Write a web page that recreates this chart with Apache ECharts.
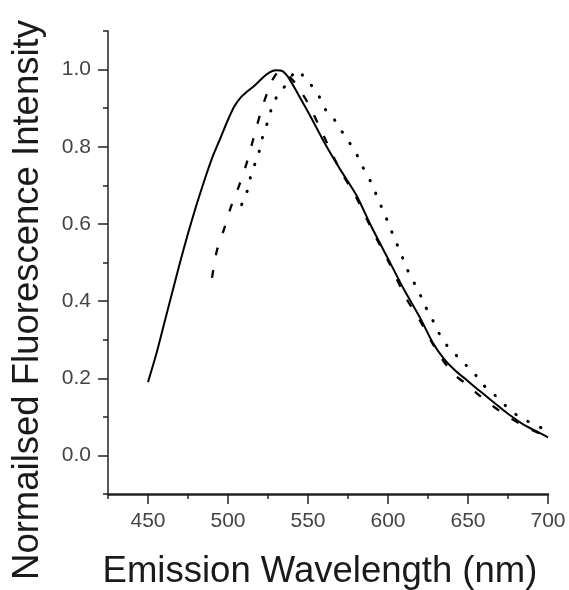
<!DOCTYPE html>
<html>
<head>
<meta charset="utf-8">
<script src="https://cdn.jsdelivr.net/npm/echarts@6/dist/echarts.min.js"></script>
<style>
html,body{margin:0;padding:0;background:#fff;}
#chart{width:569px;height:590px;}
</style>
</head>
<body>
<div id="chart"></div>
<script>
// Emission wavelength (nm) / normalised intensity pairs
const solidX = [450, 455, 460, 465, 470, 475, 480, 485, 490, 495, 500, 504, 508, 512, 517, 522, 526, 530, 534, 538, 544, 551, 561, 570, 580, 590, 600, 610, 620, 628, 635, 642, 649, 657, 666, 675, 684, 692, 700];
const solidY = [0.19, 0.26, 0.34, 0.42, 0.50, 0.575, 0.645, 0.71, 0.77, 0.82, 0.87, 0.905, 0.928, 0.943, 0.96, 0.98, 0.993, 0.998, 0.996, 0.978, 0.935, 0.883, 0.805, 0.742, 0.676, 0.59, 0.51, 0.43, 0.357, 0.292, 0.25, 0.22, 0.196, 0.168, 0.138, 0.108, 0.082, 0.064, 0.047];

const dashX = [490, 493, 497.5, 502, 507, 512, 516, 520.5, 524.5, 528, 532, 536, 542, 550, 557, 570, 580, 590, 600, 611, 620, 628, 633, 638, 643, 649, 655, 661, 674, 686.5, 700];
const dashY = [0.46, 0.53, 0.586, 0.646, 0.70, 0.762, 0.823, 0.89, 0.94, 0.975, 0.995, 0.99, 0.965, 0.913, 0.853, 0.74, 0.67, 0.585, 0.505, 0.41, 0.349, 0.289, 0.255, 0.226, 0.204, 0.185, 0.163, 0.142, 0.103, 0.073, 0.047];

const dotX = [508.5, 512, 514, 517, 519.5, 521.5, 524.5, 527, 530, 534, 538, 541, 543.5, 546.5, 552, 557, 561, 566.5, 570.5, 576, 580, 584, 587, 590.5, 593.5, 597.5, 601, 604, 608, 611, 615.5, 619.5, 623.5, 628, 632, 637, 643, 649, 655, 660, 667, 673.5, 681, 689.5, 699];
const dotY = [0.65, 0.685, 0.72, 0.758, 0.788, 0.823, 0.861, 0.896, 0.926, 0.948, 0.972, 0.99, 0.998, 0.986, 0.96, 0.93, 0.896, 0.87, 0.844, 0.81, 0.784, 0.749, 0.728, 0.698, 0.667, 0.629, 0.594, 0.562, 0.525, 0.491, 0.454, 0.422, 0.385, 0.35, 0.316, 0.284, 0.258, 0.233, 0.207, 0.181, 0.155, 0.129, 0.103, 0.084, 0.065];

const xMajorTicks = [450, 500, 550, 600, 650, 700];
const yMajorTicks = [0.0, 0.2, 0.4, 0.6, 0.8, 1.0];

const xTitle = 'Emission Wavelength (nm)';
const yTitle = 'Normailsed Fluorescence Intensity';

function pairs(xs, ys) { return xs.map((x, i) => [x, ys[i]]); }

const FONT = '"Liberation Sans", Arial, sans-serif';
function ls(w) { return {color: '#222', width: w || 1.5}; }

const chart = echarts.init(document.getElementById('chart'), null, {renderer: 'canvas'});

chart.setOption({
  animation: false,
  backgroundColor: '#fff',
  grid: {left: 108, right: 21, top: 31, bottom: 96},
  xAxis: [
    {
      type: 'value', min: 425, max: 700, interval: 25, position: 'bottom',
      axisLine: {show: true, onZero: false, lineStyle: ls(2.5)},
      axisTick: {show: true, length: 5, lineStyle: ls()},
      axisLabel: {show: true, customValues: xMajorTicks, margin: 17, fontSize: 21, color: '#444', fontFamily: FONT,
        formatter: v => String(v)},
      splitLine: {show: false}
    },
    {
      type: 'value', min: 425, max: 700, position: 'bottom',
      axisLine: {show: false, onZero: false},
      axisTick: {show: true, customValues: xMajorTicks, length: 10, lineStyle: ls()},
      axisLabel: {show: false},
      splitLine: {show: false}
    }
  ],
  yAxis: [
    {
      type: 'value', min: -0.1, max: 1.1, interval: 0.1, position: 'left',
      axisLine: {show: true, onZero: false, lineStyle: ls()},
      axisTick: {show: true, length: 5, lineStyle: ls()},
      axisLabel: {show: true, customValues: yMajorTicks, margin: 17, fontSize: 21, color: '#444', fontFamily: FONT,
        formatter: v => v.toFixed(1)},
      splitLine: {show: false}
    },
    {
      type: 'value', min: -0.1, max: 1.1, position: 'left',
      axisLine: {show: false, onZero: false},
      axisTick: {show: true, customValues: yMajorTicks, length: 10, lineStyle: ls()},
      axisLabel: {show: false},
      splitLine: {show: false}
    }
  ],
  series: [
    {
      name: 'solid', type: 'line', data: pairs(solidX, solidY), showSymbol: false, smooth: 0.25,
      lineStyle: {color: '#000', width: 2}
    },
    {
      name: 'dashed', type: 'line', data: pairs(dashX, dashY), showSymbol: false, smooth: 0.25,
      lineStyle: {color: '#000', width: 2.3, type: [8, 15]}
    },
    {
      name: 'dotted', type: 'line', data: pairs(dotX, dotY), showSymbol: false, smooth: 0.25,
      lineStyle: {color: '#000', width: 3, type: [0.5, 13.5], cap: 'round'}
    }
  ],
  graphic: [
    {
      type: 'text', x: 320, y: 572, silent: true,
      style: {text: xTitle, fontSize: 36.5, fontFamily: FONT, fill: '#1a1a1a', align: 'center', verticalAlign: 'middle'}
    },
    {
      type: 'text', x: 28, y: 300, rotation: Math.PI / 2, silent: true,
      style: {text: yTitle, fontSize: 36.5, fontFamily: FONT, fill: '#1a1a1a', align: 'center', verticalAlign: 'middle'}
    }
  ]
});
</script>
</body>
</html>
